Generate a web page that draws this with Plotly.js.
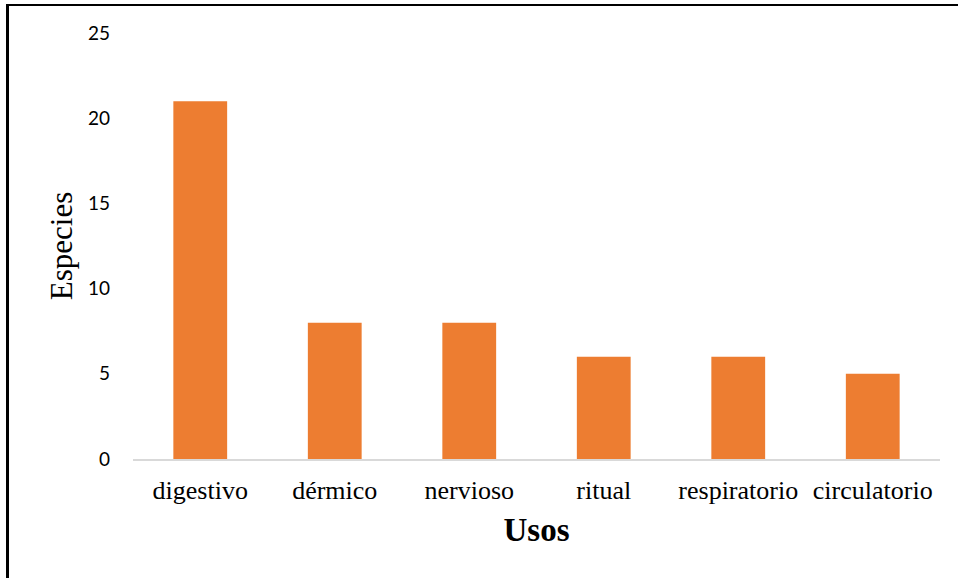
<!DOCTYPE html>
<html>
<head>
<meta charset="utf-8">
<script src="https://cdn.plot.ly/plotly-3.0.1.min.js"></script>
<style>
html,body{margin:0;padding:0;background:#fff;}
#wrap{position:relative;width:958px;height:578px;}
#chart{width:958px;height:578px;}
#frameTop{position:absolute;left:6px;top:4px;width:952px;height:2px;background:#000;}
#frameLeft{position:absolute;left:6px;top:4px;width:3px;height:574px;background:#000;}
</style>
</head>
<body>
<div id="wrap">
<div id="chart"></div>
<div id="frameTop"></div>
<div id="frameLeft"></div>
</div>
<script>
const categories = ["digestivo", "dérmico", "nervioso", "ritual", "respiratorio", "circulatorio"];
const especies = [21, 8, 8, 6, 6, 5];
const yTicks = [0, 5, 10, 15, 20, 25];

const data = [{
  type: "bar",
  x: categories,
  y: especies,
  marker: {color: "#ED7D31"},
  hoverinfo: "x+y"
}];

const layout = {
  width: 958,
  height: 578,
  margin: {l: 133, r: 18, t: 33, b: 119},
  paper_bgcolor: "#fff",
  plot_bgcolor: "#fff",
  bargap: 0.6,
  showlegend: false,
  xaxis: {
    type: "category",
    showgrid: false,
    zeroline: false,
    showline: true,
    linecolor: "#d9d9d9",
    linewidth: 2,
    ticks: "",
    tickangle: 0,
    ticklabelstandoff: 7,
    tickfont: {family: "Liberation Serif, Times New Roman, serif", size: 26, color: "#000"},
    title: {text: "<b>Usos</b>", font: {family: "Liberation Serif, Times New Roman, serif", size: 33, color: "#000"}, standoff: 14}
  },
  yaxis: {
    range: [0, 25],
    tickvals: yTicks,
    showgrid: false,
    zeroline: false,
    showline: false,
    ticks: "",
    ticklabelstandoff: 22,
    tickfont: {family: "Lato, Open Sans, sans-serif", size: 19, color: "#000"},
    title: {text: "Especies", font: {family: "Liberation Serif, Times New Roman, serif", size: 31, color: "#000"}, standoff: 6}
  }
};

Plotly.newPlot("chart", data, layout, {displayModeBar: false, staticPlot: true});
</script>
</body>
</html>
